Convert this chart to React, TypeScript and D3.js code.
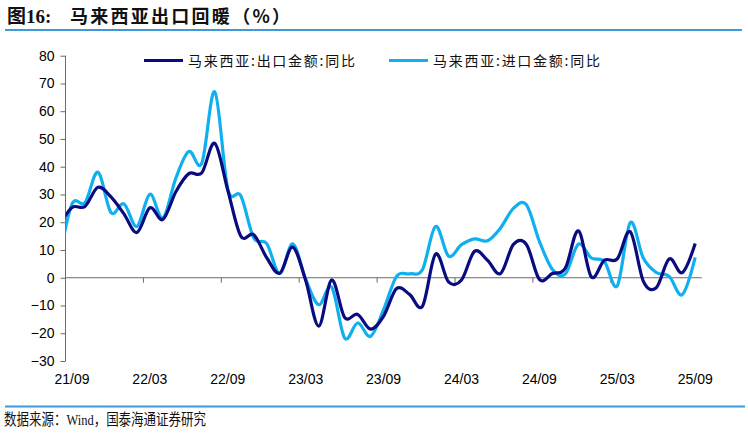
import { useEffect, useRef } from 'react';
import * as d3 from 'd3';

// monthly categories, 21/08 .. 25/09 (first one only leans in from the axis edge)
const months = d3.timeMonth
  .range(new Date(2021, 7, 1), new Date(2025, 9, 1))
  .map(d3.timeFormat('%y/%m'));

const exportYoY = [
  18.5, 25.3, 25.7, 32.6, 29.1, 23.0, 16.3, 25.2, 21.0, 31.0, 37.5, 37.8, 48.4, 31.5, 15.0, 15.5, 7.2,
  1.6, 11.0, -1.0, -17.4, -0.8, -14.3, -13.2, -18.5, -13.8, -3.9, -6.0, -10.2, 8.5, -1.5, -0.8, 9.5,
  6.3, 1.5, 12.0, 12.0, -0.6, 1.5, 3.5, 16.9, 0.3, 6.3, 6.8, 16.6, -1.2, -3.6, 6.8, 1.8, 12.3,
];

const importYoY = [
  6.0, 26.5, 27.0, 38.0, 23.5, 26.6, 18.5, 30.1, 21.5, 35.9, 45.5, 41.3, 67.0, 32.0, 29.5, 14.3, 12.3,
  1.5, 12.2, -0.5, -9.7, -3.4, -21.7, -16.3, -21.1, -11.5, 0.5, 1.4, 3.0, 18.5, 7.8, 11.9, 14.0, 13.3,
  17.9, 25.0, 26.3, 13.1, 3.0, 1.4, 12.1, 7.1, 5.9, -2.9, 19.9, 7.1, 1.9, 0.5, -6.1, 7.3,
];

const tickLabels = ['21/09', '22/03', '22/09', '23/03', '23/09', '24/03', '24/09', '25/03', '25/09'];
const yTicks = d3.range(-30, 81, 10);

const series = [
  { name: '马来西亚:出口金额:同比', values: exportYoY, color: '#0b0b80' },
  { name: '马来西亚:进口金额:同比', values: importYoY, color: '#0fb0ef' },
];

export default function App() {
  const svgRef = useRef<SVGSVGElement>(null);

  useEffect(() => {
    if (!svgRef.current) return;
    const svg = d3.select(svgRef.current);
    svg.selectAll('*').remove();

    const width = 748;
    const height = 433;
    const axisColor = '#6b6b6b';
    const rule = '#3f98d8';

    const x = d3.scaleLinear().domain([0.5, months.length - 0.5]).range([65.5, 701.7]);
    const y = d3.scaleLinear().domain([-30, 80]).range([361, 55.7]);

    svg.attr('width', width).attr('height', height);

    // title + rules
    svg.append('text')
      .attr('x', 7).attr('y', 23)
      .attr('font-family', "'Liberation Serif', 'Noto Sans CJK SC'")
      .attr('font-weight', 'bold').attr('font-size', 19).attr('fill', '#111')
      .text('图16:');
    svg.append('text')
      .attr('x', 70).attr('y', 23)
      .attr('font-family', "'Noto Sans CJK SC'")
      .attr('font-weight', 'bold').attr('font-size', 18).attr('fill', '#111')
      .attr('textLength', 220).attr('lengthAdjust', 'spacing')
      .text('马来西亚出口回暖（%）');
    svg.append('line')
      .attr('x1', 5).attr('x2', 742).attr('y1', 30).attr('y2', 30)
      .attr('stroke', rule).attr('stroke-width', 2);
    svg.append('line')
      .attr('x1', 5).attr('x2', 745).attr('y1', 406.5).attr('y2', 406.5)
      .attr('stroke', rule).attr('stroke-width', 2);
    svg.append('text')
      .attr('x', 4).attr('y', 425)
      .attr('font-family', "'Liberation Serif', 'Noto Sans CJK SC'")
      .attr('font-size', 15.5).attr('fill', '#111')
      .attr('textLength', 202).attr('lengthAdjust', 'spacingAndGlyphs')
      .text('数据来源：Wind，国泰海通证券研究');

    // Y axis
    const gy = svg.append('g').attr('transform', `translate(${x(0.5)},0)`)
      .call(d3.axisLeft(y).tickValues(yTicks).tickSize(5).tickPadding(6).tickFormat(d3.format('d')));
    gy.selectAll('.domain').attr('stroke', axisColor).attr('d', `M0,${y(-30)}V${y(80)}`);
    gy.selectAll('.tick line').attr('stroke', axisColor);
    gy.selectAll('text')
      .attr('font-family', "'Liberation Sans', Arial, sans-serif")
      .attr('font-size', 14).attr('fill', '#000');

    // X axis at zero, ticks between categories, labels on category centres
    const tickIdx = tickLabels.map(l => months.indexOf(l));
    const gx = svg.append('g').attr('transform', `translate(0,${y(0)})`);
    gx.append('line')
      .attr('x1', x(0.5)).attr('x2', x(months.length - 0.5))
      .attr('stroke', axisColor);
    gx.selectAll('line.tk')
      .data(tickIdx)
      .enter()
      .append('line')
      .attr('class', 'tk')
      .attr('x1', d => x(d - 0.5)).attr('x2', d => x(d - 0.5))
      .attr('y1', 0).attr('y2', 5)
      .attr('stroke', axisColor);
    svg.append('g')
      .selectAll('text')
      .data(tickLabels)
      .enter()
      .append('text')
      .attr('x', (_, i) => x(tickIdx[i]))
      .attr('y', 384)
      .attr('text-anchor', 'middle')
      .attr('font-family', "'Liberation Sans', Arial, sans-serif")
      .attr('font-size', 14).attr('fill', '#000')
      .text(d => d);

    // lines
    svg.append('defs').append('clipPath').attr('id', 'plotClip')
      .append('rect')
      .attr('x', x(0.5)).attr('y', 0)
      .attr('width', width - x(0.5)).attr('height', height);

    const line = d3.line<number>()
      .x((_, i) => x(i))
      .y(d => y(d))
      .curve(d3.curveCardinal.tension(0));

    svg.append('g').attr('clip-path', 'url(#plotClip)')
      .selectAll('path')
      .data([series[1], series[0]])
      .enter()
      .append('path')
      .attr('d', d => line(d.values))
      .attr('fill', 'none')
      .attr('stroke', d => d.color)
      .attr('stroke-width', 3.2)
      .attr('stroke-linejoin', 'round');

    // legend
    const legendX = [144, 389];
    const lg = svg.append('g')
      .selectAll('g')
      .data(series)
      .enter()
      .append('g')
      .attr('transform', (_, i) => `translate(${legendX[i]},60.5)`);
    lg.append('line')
      .attr('x1', 0).attr('x2', 39)
      .attr('stroke', d => d.color).attr('stroke-width', 3.2);
    lg.append('text')
      .attr('x', 44).attr('y', 5)
      .attr('font-family', "'Noto Sans CJK SC'")
      .attr('font-size', 14).attr('fill', '#111')
      .attr('textLength', 167).attr('lengthAdjust', 'spacing')
      .text(d => d.name);
  }, []);

  return (
    <div style={{ position: 'absolute', left: 0, top: 0, width: 748, height: 433, background: '#fff' }}>
      <svg ref={svgRef}></svg>
    </div>
  );
}
